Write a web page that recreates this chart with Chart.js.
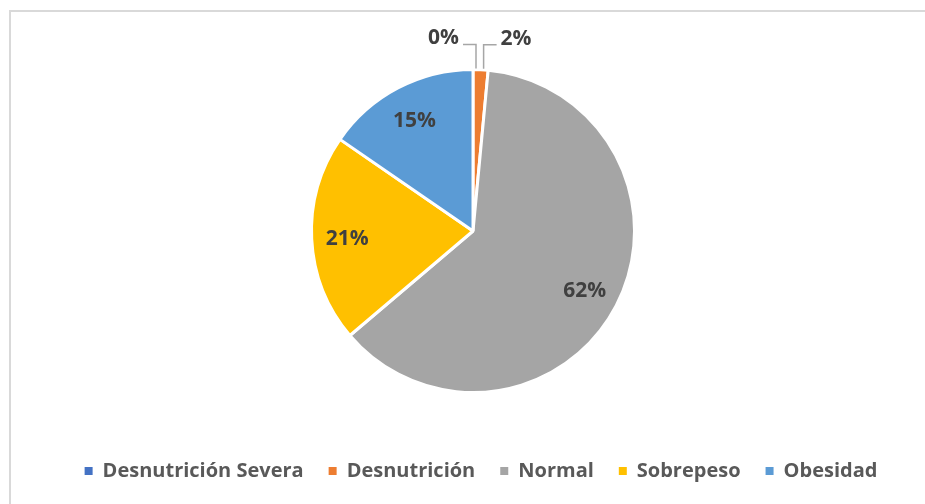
<!DOCTYPE html>
<html>
<head>
<meta charset="utf-8">
<script src="https://cdn.jsdelivr.net/npm/chart.js@4.4.1/dist/chart.umd.min.js"></script>
<style>
  body { margin: 0; background: #fff; }
  #wrap { position: relative; width: 925px; height: 504px; }
  #frame { position: absolute; left: 9px; top: 10px; width: 940px; height: 520px;
           border-left: 2px solid #d9d9d9; border-top: 2px solid #d9d9d9; }
  canvas { position: absolute; left: 0; top: 0; }
</style>
</head>
<body>
<div id="wrap">
  <div id="frame"></div>
  <canvas id="pieChart" width="925" height="504"></canvas>
</div>
<script>
const categories = ["Desnutrición Severa", "Desnutrición", "Normal", "Sobrepeso", "Obesidad"];
const values = [0, 1.5, 62.3, 20.8, 15.4];
const colors = ["#4472C4", "#ED7D31", "#A5A5A5", "#FFC000", "#5B9BD5"];

const labelFont = "bold 21px 'Open Sans'";

// percentage labels: inside for big slices, with a leader line for tiny ones
const pieLabels = {
  id: "pieLabels",
  afterLayout(chart) {
    // legend sits a little right of the pie centre in the original
    chart.legend.left += 8;
    chart.legend.right += 8;
  },
  afterDatasetsDraw(chart) {
    const ctx = chart.ctx;
    const meta = chart.getDatasetMeta(0);
    const total = values.reduce((a, b) => a + b, 0);
    ctx.save();
    ctx.font = labelFont;
    ctx.fillStyle = "#404040";
    ctx.textBaseline = "middle";
    meta.data.forEach((arc, i) => {
      const p = arc.getProps(["x", "y", "startAngle", "endAngle", "outerRadius"], true);
      const mid = (p.startAngle + p.endAngle) / 2;
      const pct = values[i] / total * 100;
      const text = Math.round(pct) + "%";
      if (pct >= 5) {
        const r = p.outerRadius * 0.78;
        ctx.textAlign = "center";
        ctx.fillText(text, p.x + Math.cos(mid) * r, p.y + Math.sin(mid) * r + 2);
      } else {
        const ax = p.x + Math.cos(mid) * p.outerRadius + 3;
        const ay = p.y + Math.sin(mid) * p.outerRadius - 1;
        const ey = ay - 24;
        const dir = Math.cos(mid) > 0.001 ? 1 : -1;
        const ex = ax + dir * 13;
        ctx.strokeStyle = "#a6a6a6";
        ctx.lineWidth = 1.5;
        ctx.beginPath();
        ctx.moveTo(ax, ay);
        ctx.lineTo(ax, ey);
        ctx.lineTo(ex, ey);
        ctx.stroke();
        ctx.textAlign = dir > 0 ? "left" : "right";
        ctx.fillText(text, ex + dir * 4, ey - 6);
      }
    });
    ctx.restore();
  }
};

new Chart(document.getElementById("pieChart"), {
  type: "pie",
  data: {
    labels: categories,
    datasets: [{
      data: values,
      backgroundColor: colors,
      borderColor: "#ffffff",
      borderWidth: 3,
      hoverOffset: 0
    }]
  },
  options: {
    responsive: false,
    animation: false,
    layout: { padding: { top: 68, bottom: 13, left: 21, right: 0 } },
    plugins: {
      tooltip: { enabled: false },
      legend: {
        position: "bottom",
        title: { display: true, text: "", padding: { top: 32, bottom: 0 }, font: { size: 10, lineHeight: 1 } },
        labels: {
          boxWidth: 8,
          boxHeight: 8,
          padding: 25,
          color: "#595959",
          font: { family: "'Open Sans'", size: 20, weight: "bold" },
          generateLabels(chart) {
            const items = Chart.overrides.pie.plugins.legend.labels.generateLabels(chart);
            items.forEach(it => { it.lineWidth = 0; it.strokeStyle = it.fillStyle; });
            return items;
          }
        }
      }
    }
  },
  plugins: [pieLabels]
});
</script>
</body>
</html>
